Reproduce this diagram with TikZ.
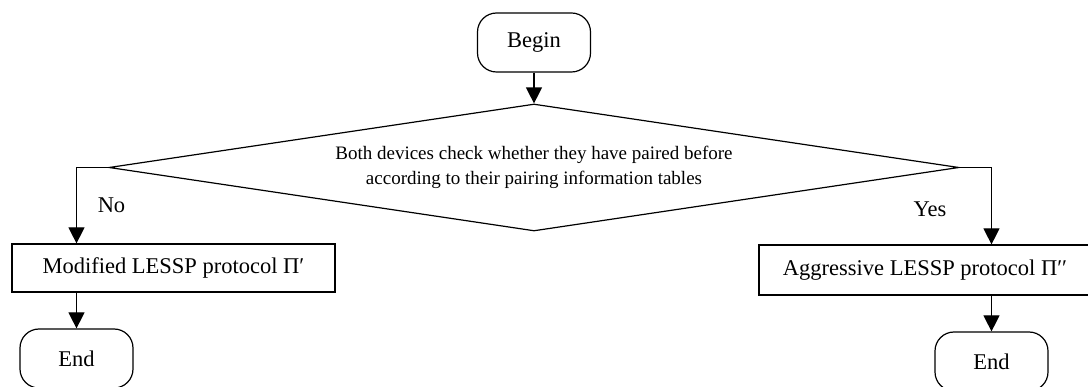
\documentclass[tikz,border=0pt]{standalone}
\usepackage{fontspec}
\setmainfont{Liberation Serif}
\usetikzlibrary{arrows.meta,shapes.geometric}

\tikzset{
  every picture/.style={line width=1.2pt},
  term/.style={draw, rectangle, rounded corners=19pt, minimum width=113pt,
    minimum height=59pt, inner sep=0pt, font=\fontsize{22.5}{27}\selectfont},
  proc/.style={draw, rectangle, inner sep=0pt, font=\fontsize{22.5}{27}\selectfont},
  decision/.style={draw, diamond, aspect=6.7, minimum width=850pt,
    minimum height=127pt, inner sep=0pt, align=center,
    font=\fontsize{19}{25}\selectfont},
  lbl/.style={anchor=base, inner sep=0pt, font=\fontsize{22.5}{27}\selectfont},
  arr/.style={-{Triangle[length=16pt,width=16pt]}},
}

\begin{document}
\begin{tikzpicture}[x=1pt, y=-1pt]
  \useasboundingbox (0,0) rectangle (1088,387);

  % start terminal and the pairing check
  \node[term] (begin) at (534,42.5) {Begin};
  \node[decision] (dia) at (534,167.5)
    {Both devices check whether they have paired before\\
     according to their pairing information tables};

  % the two protocol branches
  \node[proc, minimum width=323pt, minimum height=48pt] (mod) at (173.5,268)
    {Modified LESSP protocol Π′};
  \node[proc, minimum width=332pt, minimum height=50pt] (agg) at (925,270)
    {Aggressive LESSP protocol Π′′};

  % end terminals
  \node[term] (endL) at (76.5,358.5) {End};
  \node[term] (endR) at (991.5,361.5) {End};

  % branch labels
  \node[lbl] (no) at (111.5,213) {No};
  \node[lbl] (yes) at (930,217) {Yes};

  % connectors
  \draw[arr] (begin) -- (dia);
  \draw[arr] (dia.west) -| (mod.north -| endL);
  \draw[arr] (dia.east) -| (agg.north -| endR);
  \draw[arr] (mod.south -| endL) -- (endL);
  \draw[arr] (agg.south -| endR) -- (endR);
\end{tikzpicture}
\end{document}
